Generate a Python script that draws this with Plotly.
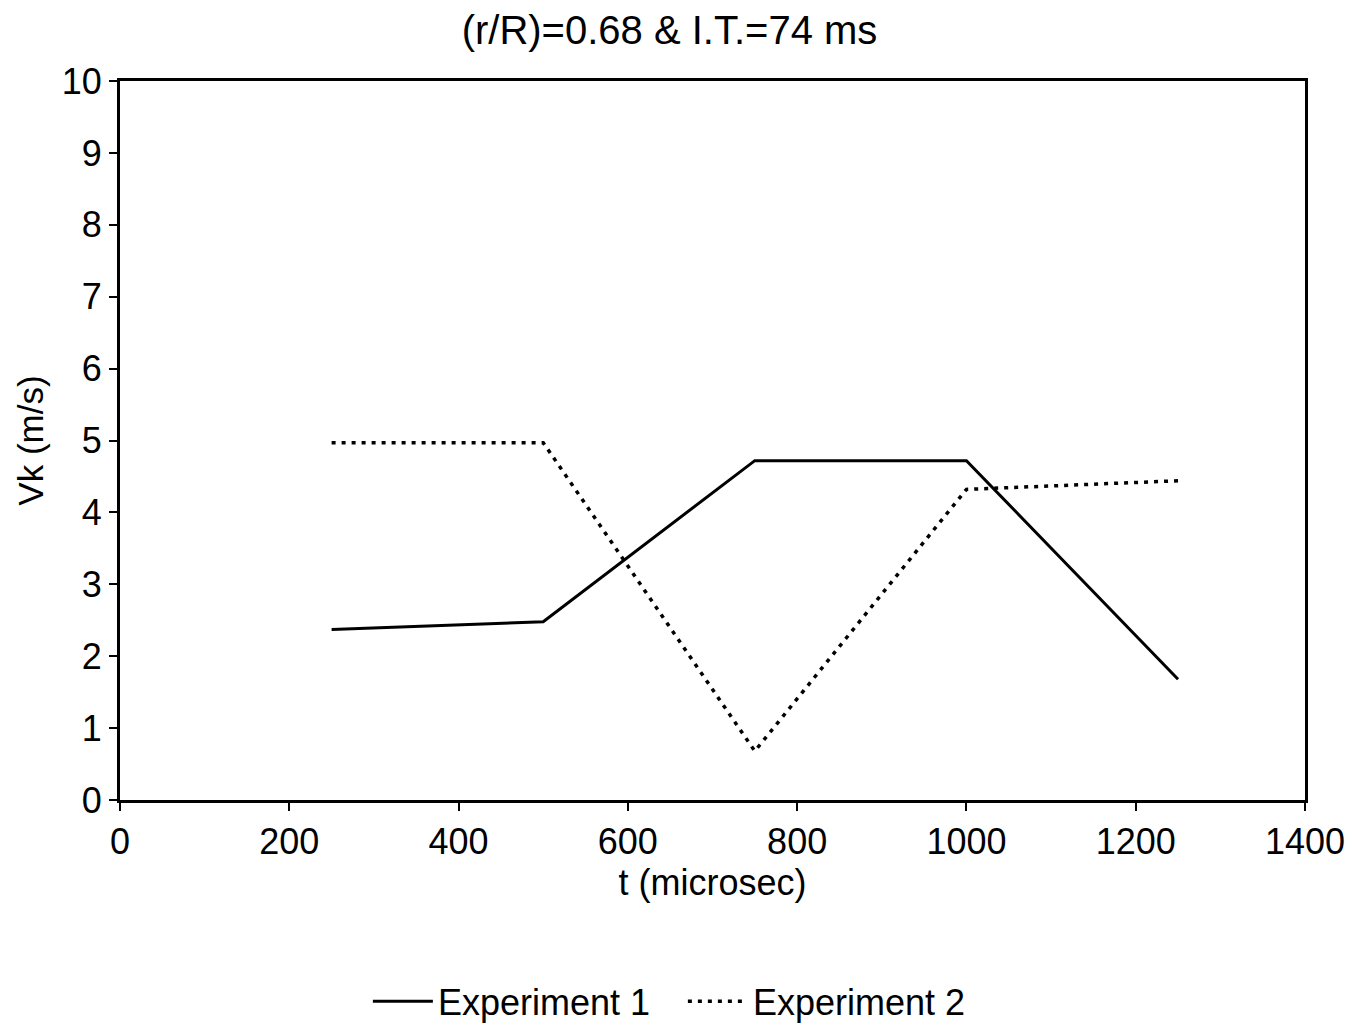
import plotly.graph_objects as go

t = [250, 500, 750, 1000, 1250]
exp1 = [2.37, 2.48, 4.72, 4.72, 1.68]
exp2 = [4.97, 4.97, 0.68, 4.32, 4.44]
x_ticks = [0, 200, 400, 600, 800, 1000, 1200, 1400]
y_ticks = list(range(0, 11))

font = "Liberation Sans, Arial, sans-serif"
fig = go.Figure()
fig.add_trace(go.Scatter(x=t, y=exp1, mode="lines", name="Experiment 1",
                         line=dict(color="black", width=3, dash="solid")))
fig.add_trace(go.Scatter(x=t, y=exp2, mode="lines", name="Experiment 2",
                         line=dict(color="black", width=3.5, dash="4px,6px")))

fig.update_layout(
    width=1350, height=1015,
    paper_bgcolor="white", plot_bgcolor="white",
    margin=dict(l=112, r=53, t=73, b=223, autoexpand=False),
    title=dict(text="(r/R)=0.68 & I.T.=74 ms", x=0.49, xanchor="center", y=0.978, yanchor="middle",
               font=dict(family=font, size=40, color="black")),
    font=dict(family=font, color="black"),
    showlegend=True,
    legend=dict(orientation="h", x=0.475, xanchor="center", y=-0.28, yanchor="middle",
                font=dict(size=36, color="black"), itemwidth=60, entrywidth=240),
    xaxis=dict(range=[0, 1400], tickvals=x_ticks, ticks="outside", ticklen=8, tickwidth=2,
               tickcolor="black", showline=True, linecolor="black", linewidth=3, mirror=True,
               showgrid=False, zeroline=False, tickfont=dict(size=36), automargin=False,
               title=dict(text="t (microsec)", font=dict(size=36), standoff=0)),
    yaxis=dict(range=[0, 10], tickvals=y_ticks, ticks="outside", ticklen=8, tickwidth=2,
               tickcolor="black", showline=True, linecolor="black", linewidth=3, mirror=True,
               showgrid=False, zeroline=False, tickfont=dict(size=36), automargin=False,
               title=dict(text="Vk (m/s)", font=dict(size=35), standoff=8)),
)
fig.write_html("out.html")
